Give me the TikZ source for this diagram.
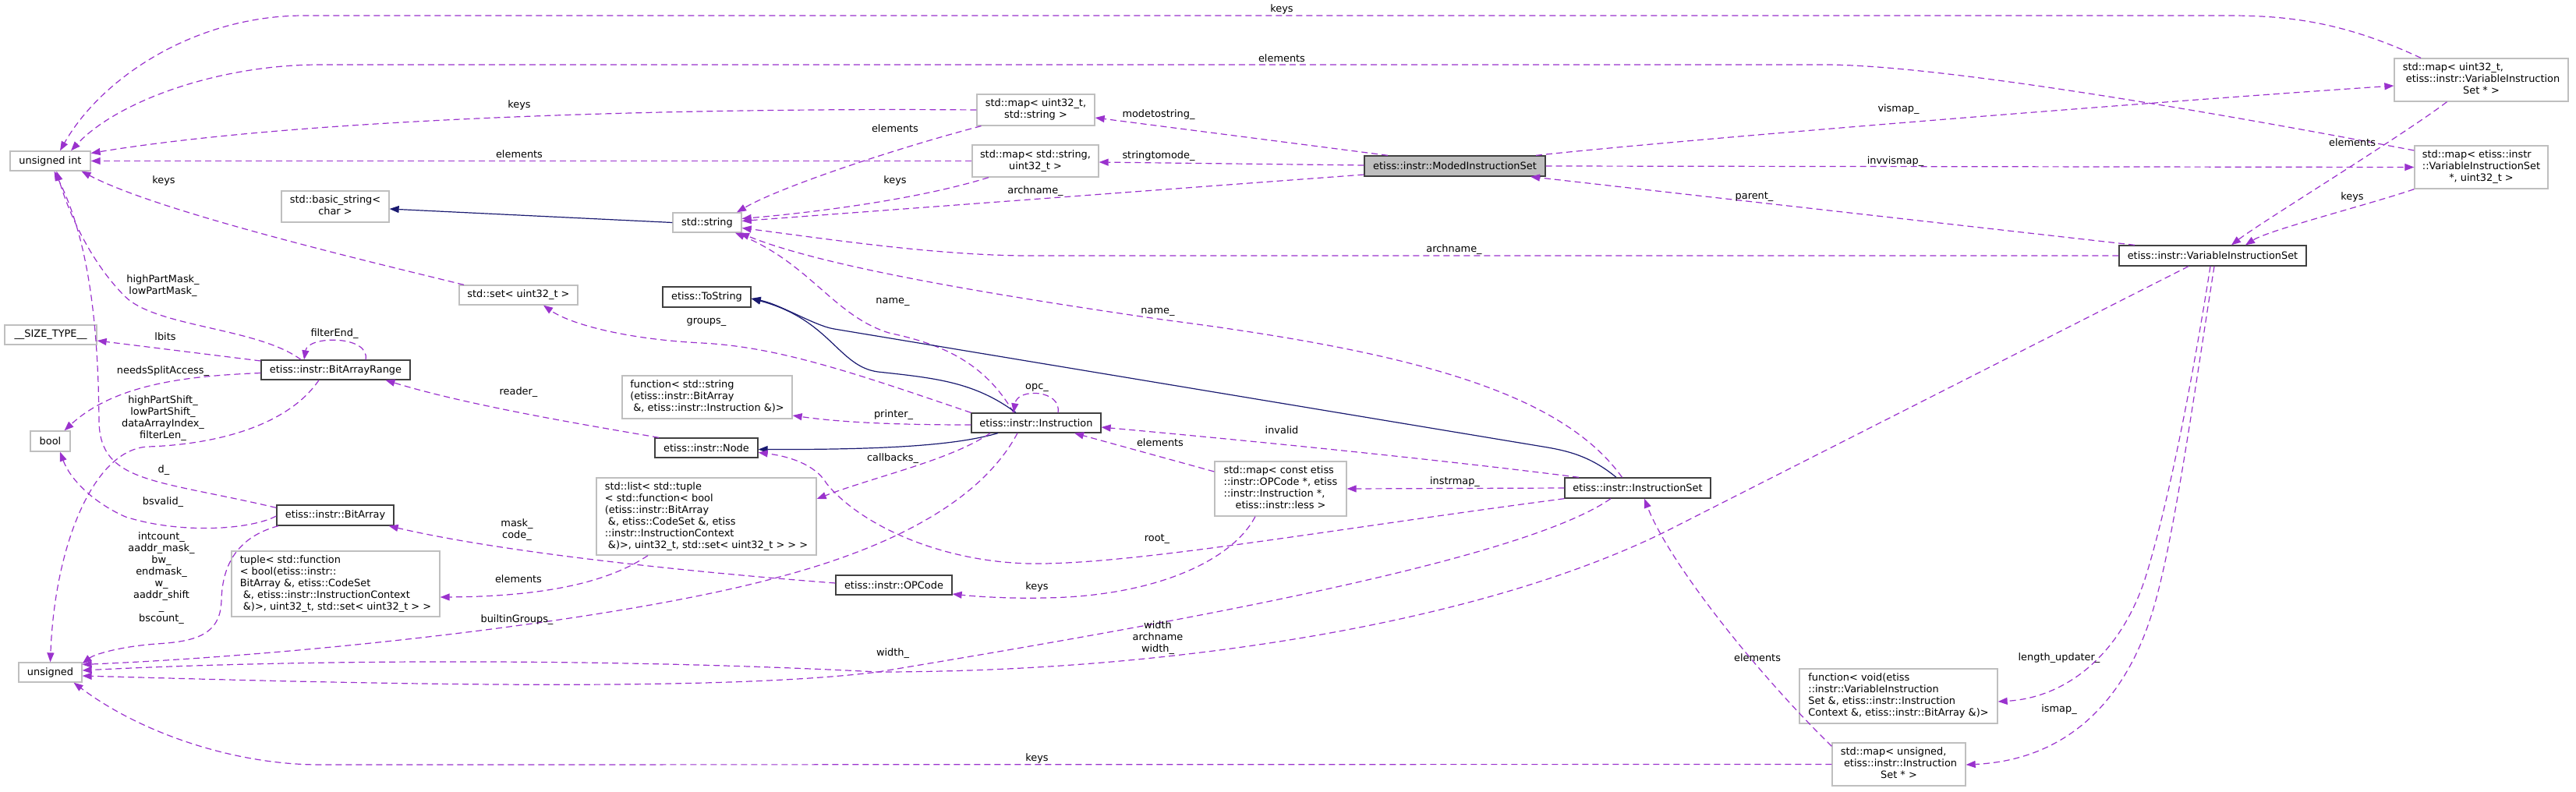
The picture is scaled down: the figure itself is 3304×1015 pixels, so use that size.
\documentclass[tikz,border=0pt]{standalone}
\usepackage{fontspec}
\setmainfont{DejaVu Sans}
\usetikzlibrary{arrows.meta}
\definecolor{usecol}{HTML}{9A32CD}
\definecolor{inhcol}{HTML}{191970}
\definecolor{extgrey}{HTML}{BFBFBF}
\definecolor{docgrey}{HTML}{404040}
\newcommand{\dxfont}{\fontsize{12.9}{15}\selectfont}
\newcommand{\lastrow}[1]{\multicolumn{1}{@{}c@{}}{#1}}

\begin{document}
\begin{tikzpicture}[x=1pt,y=-1pt,line width=1.2pt,
  clsext/.style={draw=extgrey,line width=1.3pt,fill=white,inner sep=0pt,font=\dxfont},
  clsdoc/.style={draw=docgrey,line width=1.3pt,fill=white,inner sep=0pt,font=\dxfont},
  clsmain/.style={draw=docgrey,line width=1.3pt,fill=extgrey,inner sep=0pt,font=\dxfont},
  uses/.style={draw=usecol,dash pattern=on 8pt off 5pt,-{Triangle[length=12pt,width=9pt]}},
  inherit/.style={draw=inhcol,-{Triangle[length=12pt,width=9pt]}},
  lbl/.style={inner sep=0pt,align=center,font=\dxfont}]
\path[use as bounding box] (0,0) rectangle (3304,1015);
\node[clsext,minimum width=103pt,minimum height=25pt] (uint) at (64.5,206.5) {unsigned int};
\node[clsext,minimum width=138pt,minimum height=40pt] (bstr) at (430,265) {\begin{tabular}{@{}l@{}}std::basic\_string<\\\lastrow{char >}\end{tabular}};
\node[clsext,minimum width=88pt,minimum height=25pt] (str) at (907,285.5) {std::string};
\node[clsext,minimum width=151pt,minimum height=40pt] (mapus) at (1328.5,141) {\begin{tabular}{@{}l@{}}std::map< uint32\_t,\\\lastrow{std::string >}\end{tabular}};
\node[clsext,minimum width=162pt,minimum height=41pt] (mapsu) at (1328,206.5) {\begin{tabular}{@{}l@{}}std::map< std::string,\\\lastrow{uint32\_t >}\end{tabular}};
\node[clsmain,minimum width=232pt,minimum height=26pt] (mis) at (1866,213) {etiss::instr::ModedInstructionSet};
\node[clsext,minimum width=223pt,minimum height=55pt] (mapuv) at (3182.5,102.5) {\begin{tabular}{@{}l@{}}std::map< uint32\_t,\\\ etiss::instr::VariableInstruction\\\lastrow{Set * >}\end{tabular}};
\node[clsext,minimum width=171pt,minimum height=55pt] (mapvu) at (3182.5,214.5) {\begin{tabular}{@{}l@{}}std::map< etiss::instr\\::VariableInstructionSet\\\lastrow{*, uint32\_t >}\end{tabular}};
\node[clsdoc,minimum width=240pt,minimum height=26pt] (vis) at (2838,328) {etiss::instr::VariableInstructionSet};
\node[clsext,minimum width=152pt,minimum height=25pt] (set) at (665,378.5) {std::set< uint32\_t >};
\node[clsdoc,minimum width=113pt,minimum height=26pt] (tostr) at (906.5,381) {etiss::ToString};
\node[clsext,minimum width=118pt,minimum height=25pt] (sizet) at (65,429.5) {\_\_SIZE\_TYPE\_\_};
\node[clsdoc,minimum width=191pt,minimum height=25pt] (bar) at (430.5,474.5) {etiss::instr::BitArrayRange};
\node[clsext,minimum width=51pt,minimum height=26pt] (bool) at (64.5,566) {bool};
\node[clsdoc,minimum width=150pt,minimum height=26pt] (bitarr) at (430,661) {etiss::instr::BitArray};
\node[clsext,minimum width=218pt,minimum height=55pt] (fstr) at (907,509.5) {\begin{tabular}{@{}l@{}}function< std::string\\(etiss::instr::BitArray\\\lastrow{\ \&, etiss::instr::Instruction \&)>}\end{tabular}};
\node[clsdoc,minimum width=132pt,minimum height=25pt] (node) at (906,574.5) {etiss::instr::Node};
\node[clsext,minimum width=282pt,minimum height=99pt] (list) at (906,662.5) {\begin{tabular}{@{}l@{}}std::list< std::tuple\\< std::function< bool\\(etiss::instr::BitArray\\\ \&, etiss::CodeSet \&, etiss\\::instr::InstructionContext\\\lastrow{\ \&)>, uint32\_t, std::set< uint32\_t > > >}\end{tabular}};
\node[clsdoc,minimum width=166pt,minimum height=25pt] (instr) at (1329,542.5) {etiss::instr::Instruction};
\node[clsext,minimum width=169pt,minimum height=70pt] (mapoi) at (1642.5,627) {\begin{tabular}{@{}l@{}}std::map< const etiss\\::instr::OPCode *, etiss\\::instr::Instruction *,\\\lastrow{etiss::instr::less >}\end{tabular}};
\node[clsdoc,minimum width=187pt,minimum height=26pt] (iset) at (2100.5,626) {etiss::instr::InstructionSet};
\node[clsext,minimum width=81pt,minimum height=25pt] (uns) at (64.5,862.5) {unsigned};
\node[clsext,minimum width=267pt,minimum height=84pt] (tuple) at (430.5,749) {\begin{tabular}{@{}l@{}}tuple< std::function\\< bool(etiss::instr::\\BitArray \&, etiss::CodeSet\\\ \&, etiss::instr::InstructionContext\\\lastrow{\ \&)>, uint32\_t, std::set< uint32\_t > >}\end{tabular}};
\node[clsdoc,minimum width=149pt,minimum height=25pt] (opc) at (1146.5,750.5) {etiss::instr::OPCode};
\node[clsext,minimum width=254pt,minimum height=70pt] (fvoid) at (2435,893) {\begin{tabular}{@{}l@{}}function< void(etiss\\::instr::VariableInstruction\\Set \&, etiss::instr::Instruction\\\lastrow{Context \&, etiss::instr::BitArray \&)>}\end{tabular}};
\node[clsext,minimum width=171pt,minimum height=55pt] (mapui) at (2435.5,980.5) {\begin{tabular}{@{}l@{}}std::map< unsigned,\\\ etiss::instr::Instruction\\\lastrow{Set * >}\end{tabular}};
\draw[uses] ([xshift=-77.5pt]mapuv.north) .. controls (3010,30) and (2940,20) .. (2860,20) -- (390,20) .. controls (250,20) and (130,100) .. ([xshift=12.5pt]uint.north);
\draw[uses] ([yshift=21.5pt]mapvu.west) .. controls (2897,155) and (2500,83) .. (2340,83) -- (410,83) .. controls (280,83) and (150,130) .. ([xshift=26.5pt]uint.north);
\draw[uses] (mapus.west) .. controls (900,138) and (400,150) .. ([yshift=10pt]uint.east);
\draw[uses] (mapsu.west) -- (uint.east);
\draw[uses] ([xshift=-70pt]set.north) .. controls (450,330) and (200,270) .. ([xshift=40pt]uint.south);
\draw[uses] ([xshift=-70pt]mapus.south) .. controls (1150,190) and (1000,240) .. ([xshift=38pt]str.north);
\draw[uses] ([xshift=-60pt]mapsu.south) .. controls (1180,255) and (1050,272) .. ([yshift=5pt]str.east);
\draw[uses] ([yshift=-11pt]mis.west) -- ([yshift=2pt]str.east);
\draw[uses] (vis.west) -- (1320,328) .. controls (1200,328) and (1050,305) .. ([yshift=-7pt]str.east);
\draw[uses] ([xshift=-29pt]instr.north) .. controls (1260,460) and (1200,440) .. (1140,427) .. controls (1070,405) and (1040,340) .. ([xshift=36pt]str.south);
\draw[uses] ([xshift=-20pt]iset.north) .. controls (2000,500) and (1800,450) .. (1491,410) .. controls (1250,375) and (1050,340) .. ([xshift=42pt]str.south);
\draw[inherit] (str.west) -- ([yshift=-3pt]bstr.east);
\draw[uses] ([xshift=-86pt]mis.north) -- ([yshift=-10pt]mapus.east);
\draw[uses] ([yshift=1pt]mis.west) -- ([yshift=-1.5pt]mapsu.east);
\draw[uses] ([xshift=104pt]mis.north) .. controls (2150,180) and (2700,135) .. ([yshift=-7.5pt]mapuv.west);
\draw[uses] (mis.east) -- (mapvu.west);
\draw[uses] ([xshift=-100pt]vis.north) -- ([xshift=97pt]mis.south);
\draw[uses] ([xshift=-44pt]mapuv.south) .. controls (3080,175) and (2900,285) .. ([xshift=24pt]vis.north);
\draw[uses] (mapvu.south west) .. controls (3040,262) and (2910,295) .. ([xshift=42pt]vis.north);
\draw[uses] ([xshift=-44.5pt]bar.north) .. controls (330,420) and (200,420) .. (160,380) .. controls (120,340) and (90,280) .. ([xshift=8pt]uint.south);
\draw[uses] ([yshift=-4pt]bitarr.north west) .. controls (200,615) and (128,620) .. (127,540) .. controls (126,400) and (110,300) .. ([xshift=5pt]uint.south);
\draw[uses] ([yshift=11.5pt]bar.west) -- ([yshift=-7.5pt]sizet.east);
\draw[uses] ([yshift=-4pt]bar.west) .. controls (250,482) and (150,490) .. ([xshift=18pt]bool.north);
\draw[uses] ([xshift=38.5pt]bar.north) .. controls (475,430) and (395,430) .. ([xshift=-40.5pt]bar.north);
\draw[uses] ([xshift=-21.5pt]bar.south) .. controls (370,545) and (280,570) .. (190,573) .. controls (120,576) and (70,700) .. (uns.north);
\draw[uses] ([yshift=-1pt]bitarr.west) .. controls (320,680) and (230,685) .. (161,663) .. controls (120,645) and (90,615) .. ([xshift=12.5pt]bool.south);
\draw[uses] ([xshift=-73pt]bitarr.south) .. controls (300,690) and (285,730) .. (284,770) .. controls (283,815) and (250,823) .. (200,826) .. controls (150,830) and (120,840) .. ([yshift=-2pt]uns.north east);
\draw[uses] (instr.north west) .. controls (1100,480) and (1000,445) .. (900,440) .. controls (800,435) and (730,415) .. ([xshift=32pt]set.south);
\draw[inherit] ([xshift=-26pt]instr.north) .. controls (1250,490) and (1200,485) .. (1126,477) .. controls (1075,470) and (1065,410) .. ([yshift=-2pt]tostr.east);
\draw[inherit] ([xshift=-27.5pt]iset.north) .. controls (2040,585) and (2010,578) .. (1979,573) -- (1070,422) .. controls (1045,418) and (1000,390) .. ([yshift=-2pt]tostr.east);
\draw[inherit] ([xshift=-49pt]instr.south) .. controls (1230,570) and (1150,577) .. ([yshift=-2pt]node.east);
\draw[uses] ([xshift=28pt]instr.north) .. controls (1362,500) and (1305,497) .. ([xshift=-29pt]instr.north);
\draw[uses] ([yshift=-2.5pt]instr.west) .. controls (1150,545) and (1080,542) .. ([yshift=-23.5pt]fstr.east);
\draw[uses] ([xshift=-59pt]instr.south) .. controls (1220,590) and (1120,612) .. ([yshift=22.5pt]list.east);
\draw[uses] ([xshift=-24pt]instr.south) .. controls (1260,640) and (1150,700) .. (1000,740) .. controls (800,795) and (400,840) .. ([yshift=10pt]uns.east);
\draw[uses] ([xshift=-61pt]node.north) .. controls (750,545) and (600,520) .. ([xshift=64pt]bar.south);
\draw[uses] (iset.south west) .. controls (1700,680) and (1450,725) .. (1320,723) .. controls (1200,720) and (1100,670) .. (1060,620) .. controls (1045,595) and (1010,585) .. ([yshift=-6pt]node.east);
\draw[uses] ([xshift=-75pt]list.south) .. controls (790,740) and (720,765) .. ([yshift=-17pt]tuple.east);
\draw[uses] ([yshift=2.5pt]opc.west) .. controls (900,735) and (650,710) .. ([xshift=-7pt]bitarr.south east);
\draw[uses] ([xshift=-32.5pt]mapoi.south) .. controls (1580,720) and (1480,765) .. (1340,767) .. controls (1290,768) and (1250,765) .. ([yshift=-11.5pt]opc.east);
\draw[uses] ([yshift=22pt]mapoi.west) -- ([xshift=49pt]instr.south);
\draw[uses] (iset.west) -- (mapoi.east);
\draw[uses] ([xshift=-75.5pt]iset.north) .. controls (1850,590) and (1600,565) .. ([yshift=-5.5pt]instr.east);
\draw[uses] ([xshift=-34.5pt]iset.south) .. controls (1950,720) and (1500,800) .. (1126,862) .. controls (900,890) and (400,875) .. ([yshift=-4.5pt]uns.east);
\draw[uses] ([xshift=-31pt]vis.south) -- (2140,680) .. controls (1900,800) and (1500,862) .. (1126,862) .. controls (800,845) and (400,845) .. ([yshift=2.5pt]uns.east);
\draw[uses] ([xshift=2pt]vis.south) .. controls (2815,500) and (2790,680) .. (2765,770) .. controls (2730,900) and (2650,975) .. ([yshift=-0.5pt]mapui.east);
\draw[uses] ([xshift=-3pt]vis.south) .. controls (2810,500) and (2780,650) .. (2752,740) .. controls (2720,840) and (2650,895) .. ([yshift=-7pt]fvoid.east);
\draw[uses] ([yshift=-5pt]mapui.north west) .. controls (2250,860) and (2140,720) .. ([xshift=8.5pt]iset.south);
\draw[uses] (mapui.west) -- (410,981) .. controls (300,981) and (180,940) .. ([xshift=30pt]uns.south);
\node[lbl] (lkeysa) at (1644,12) {keys};
\node[lbl] (lelema) at (1644,75) {elements};
\node[lbl] (lkeysb) at (666,135) {keys};
\node[lbl] (lelemb) at (666,198) {elements};
\node[lbl] (lkeysc) at (210,232) {keys};
\node[lbl] (lelemc) at (1148,165) {elements};
\node[lbl] (lkeysd) at (1148,232) {keys};
\node[lbl] (larcha) at (1328,245) {archname\_};
\node[lbl] (larchb) at (1865,320) {archname\_};
\node[lbl] (lnamea) at (1145,387) {name\_};
\node[lbl] (lnameb) at (1485,400) {name\_};
\node[lbl] (lmodets) at (1486,147) {modetostring\_};
\node[lbl] (lstrtm) at (1486,200) {stringtomode\_};
\node[lbl] (lvismap) at (2435,140) {vismap\_};
\node[lbl] (linvvis) at (2431,207) {invvismap\_};
\node[lbl] (lparent) at (2250,252) {parent\_};
\node[lbl] (lelemd) at (3017,183) {elements};
\node[lbl] (lkeyse) at (3017,253) {keys};
\node[lbl] (lmask) at (209,367) {highPartMask\_\\lowPartMask\_};
\node[lbl] (ld) at (210,603) {d\_};
\node[lbl] (llbits) at (212,432) {lbits};
\node[lbl] (lsplit) at (209,476) {needsSplitAccess\_};
\node[lbl] (lfilter) at (429,428) {filterEnd\_};
\node[lbl] (lshift) at (209,537) {highPartShift\_\\lowPartShift\_\\dataArrayIndex\_\\filterLen\_};
\node[lbl] (lbsvalid) at (209,644) {bsvalid\_};
\node[lbl] (lcount) at (207,742) {intcount\_\\aaddr\_mask\_\\bw\_\\endmask\_\\w\_\\aaddr\_shift\\\_\\bscount\_};
\node[lbl] (lgroups) at (906,413) {groups\_};
\node[lbl] (lopc) at (1330,497) {opc\_};
\node[lbl] (lprinter) at (1146,532) {printer\_};
\node[lbl] (lcallb) at (1145,588) {callbacks\_};
\node[lbl] (lbuiltin) at (663,795) {builtinGroups\_};
\node[lbl] (lreader) at (665,503) {reader\_};
\node[lbl] (lroot) at (1484,691) {root\_};
\node[lbl] (leleme) at (665,743) {elements};
\node[lbl] (lmaskcode) at (663,680) {mask\_\\code\_};
\node[lbl] (lkeysf) at (1330,753) {keys};
\node[lbl] (lelemf) at (1488,568) {elements};
\node[lbl] (linstrmap) at (1866,618) {instrmap\_};
\node[lbl] (linvalid) at (1644,552) {invalid};
\node[lbl] (lwidtha) at (1145,838) {width\_};
\node[lbl] (lwidthb) at (1485,818) {width\\archname\\width\_};
\node[lbl] (lismap) at (2641,910) {ismap\_};
\node[lbl] (llength) at (2641,844) {length\_updater\_};
\node[lbl] (lelemg) at (2254,844) {elements};
\node[lbl] (lkeysg) at (1330,973) {keys};
\end{tikzpicture}
\end{document}
